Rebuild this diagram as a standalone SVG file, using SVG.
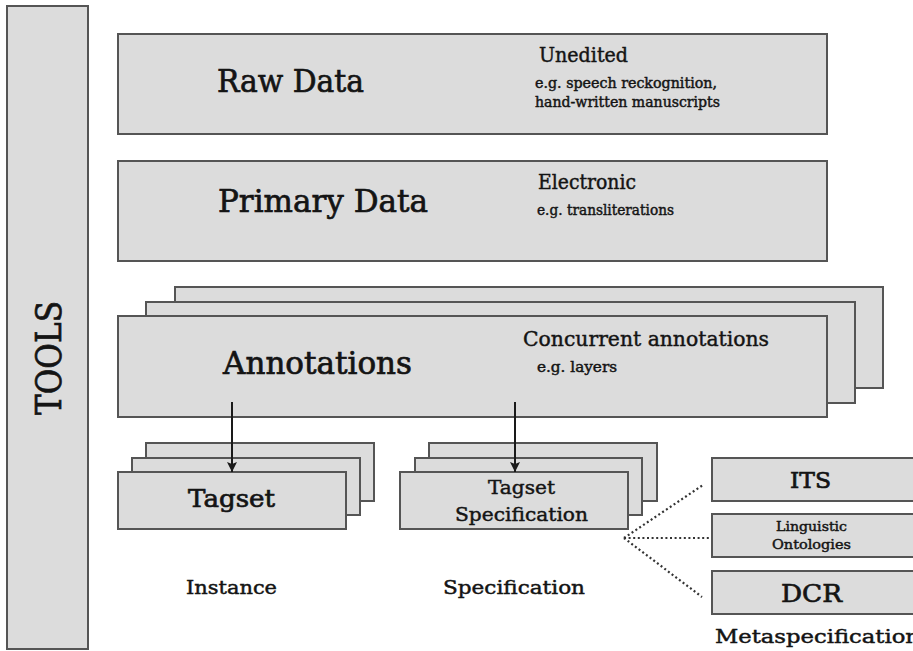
<svg xmlns="http://www.w3.org/2000/svg" width="913" height="651" viewBox="0 0 913 651">
  <defs>
    <style>
      .box { fill: #dcdcdc; stroke: #555555; stroke-width: 2; }
      .t { font-family: "DejaVu Serif", "Liberation Serif", serif; fill: #141414; stroke: #141414; stroke-width: 0.7; }
      .s { stroke-width: 0.45; }
      .conn { stroke: #1a1a1a; stroke-width: 2; fill: none; }
      .dots { stroke: #333333; stroke-width: 2.2; stroke-dasharray: 2 2.6; fill: none; }
    </style>
    <marker id="arrow" viewBox="0 0 10 14" refX="10" refY="7" markerWidth="10" markerHeight="14" markerUnits="userSpaceOnUse" orient="auto">
      <path d="M0,2 L10,7 L0,12 L2,7 Z" fill="#1a1a1a"/>
    </marker>
  </defs>
  <rect width="913" height="651" fill="#ffffff"/>

  <!-- side bar -->
  <g id="tools">
    <rect class="box" x="7" y="6" width="81" height="643"/>
    <text class="t" transform="translate(61,358) rotate(-90)" text-anchor="middle" font-size="36" textLength="114" lengthAdjust="spacingAndGlyphs">TOOLS</text>
  </g>

  <g id="raw-data">
    <rect class="box" x="118" y="34" width="709" height="100"/>
    <text class="t" x="217" y="92" font-size="32" textLength="147" lengthAdjust="spacingAndGlyphs">Raw Data</text>
    <text class="t s" x="539" y="62" font-size="20" textLength="89" lengthAdjust="spacingAndGlyphs">Unedited</text>
    <text class="t s" x="535" y="88" font-size="14" textLength="182" lengthAdjust="spacingAndGlyphs">e.g. speech reckognition,</text>
    <text class="t s" x="535" y="107" font-size="14" textLength="185" lengthAdjust="spacingAndGlyphs">hand-written manuscripts</text>
  </g>

  <g id="primary-data">
    <rect class="box" x="118" y="161" width="709" height="100"/>
    <text class="t" x="218" y="212" font-size="31" textLength="210" lengthAdjust="spacingAndGlyphs">Primary Data</text>
    <text class="t s" x="538" y="189" font-size="20" textLength="98" lengthAdjust="spacingAndGlyphs">Electronic</text>
    <text class="t s" x="537" y="215" font-size="14" textLength="137" lengthAdjust="spacingAndGlyphs">e.g. transliterations</text>
  </g>

  <g id="annotations">
    <rect class="box" x="175" y="287" width="708" height="101"/>
    <rect class="box" x="146" y="302" width="709" height="101"/>
    <rect class="box" x="118" y="316" width="709" height="101"/>
    <text class="t" x="223" y="374" font-size="31" textLength="189" lengthAdjust="spacingAndGlyphs">Annotations</text>
    <text class="t s" x="523" y="346" font-size="21" textLength="246" lengthAdjust="spacingAndGlyphs">Concurrent annotations</text>
    <text class="t s" x="537" y="372" font-size="14" textLength="80" lengthAdjust="spacingAndGlyphs">e.g. layers</text>
  </g>

  <g id="tagset">
    <rect class="box" x="146" y="443" width="228" height="58"/>
    <rect class="box" x="132" y="458" width="228" height="57"/>
    <rect class="box" x="118" y="472" width="228" height="57"/>
    <text class="t" x="188" y="507" font-size="25" textLength="87" lengthAdjust="spacingAndGlyphs">Tagset</text>
  </g>

  <g id="tagset-specification">
    <rect class="box" x="429" y="443" width="228" height="58"/>
    <rect class="box" x="415" y="458" width="227" height="57"/>
    <rect class="box" x="400" y="472" width="228" height="57"/>
    <text class="t s" x="488" y="494" font-size="19" textLength="67" lengthAdjust="spacingAndGlyphs">Tagset</text>
    <text class="t s" x="455" y="521" font-size="19" textLength="133" lengthAdjust="spacingAndGlyphs">Specification</text>
  </g>

  <g id="its">
    <rect class="box" x="712" y="458" width="210" height="43"/>
    <text class="t" x="790" y="488" font-size="23" textLength="41" lengthAdjust="spacingAndGlyphs">ITS</text>
  </g>

  <g id="linguistic-ontologies">
    <rect class="box" x="712" y="514" width="210" height="43"/>
    <text class="t s" x="776" y="531" font-size="13" textLength="71" lengthAdjust="spacingAndGlyphs">Linguistic</text>
    <text class="t s" x="772" y="549" font-size="13" textLength="79" lengthAdjust="spacingAndGlyphs">Ontologies</text>
  </g>

  <g id="dcr">
    <rect class="box" x="712" y="571" width="210" height="43"/>
    <text class="t" x="781" y="602" font-size="25" textLength="61" lengthAdjust="spacingAndGlyphs">DCR</text>
  </g>

  <!-- column captions -->
  <g id="captions">
    <text class="t s" x="186" y="594" font-size="18" textLength="91" lengthAdjust="spacingAndGlyphs">Instance</text>
    <text class="t s" x="443" y="594" font-size="18" textLength="142" lengthAdjust="spacingAndGlyphs">Specification</text>
    <text class="t s" x="715" y="643" font-size="18" textLength="205" lengthAdjust="spacingAndGlyphs">Metaspecification</text>
  </g>

  <g id="connectors">
    <line class="conn" x1="232" y1="402" x2="232" y2="472" marker-end="url(#arrow)"/>
    <line class="conn" x1="515" y1="402" x2="515" y2="472" marker-end="url(#arrow)"/>
    <line class="dots" x1="624" y1="538" x2="703" y2="485"/>
    <line class="dots" x1="624" y1="538" x2="711" y2="538"/>
    <line class="dots" x1="624" y1="538" x2="702" y2="597"/>
  </g>
</svg>
